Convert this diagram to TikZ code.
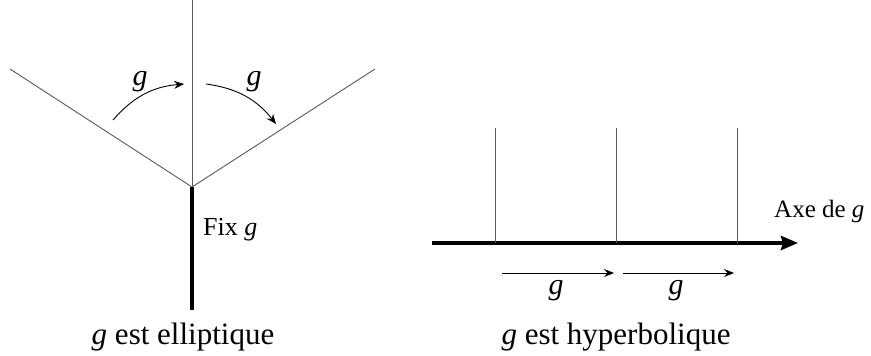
\documentclass[tikz,border=0pt]{standalone}
\usepackage{fontspec}
\setmainfont{Liberation Serif}
\usetikzlibrary{arrows.meta}
\begin{document}
\begin{tikzpicture}[x=1pt,y=-1pt,
  thinline/.style={line width=0.9pt,draw=black!65},
  thickline/.style={line width=4pt},
  curvearrow/.style={line width=0.9pt,-{Stealth[length=10pt,width=8pt,inset=3.5pt]}},
  lbl/.style={font=\fontsize{30}{30}\selectfont,inner sep=0pt,anchor=base},
  captext/.style={font=\fontsize{31}{31}\selectfont,inner sep=0pt,anchor=base},
  smalltext/.style={font=\fontsize{25}{25}\selectfont,inner sep=0pt,anchor=base west}]
\useasboundingbox (0,0) rectangle (871,356);
% elliptic
\coordinate (top) at (192,0);
\coordinate (v) at (192,187);
\coordinate (bot) at (192,310);
\coordinate (l) at (10,69);
\coordinate (r) at (375,69);
\draw[thinline] (top) -- (v);
\draw[thinline] (l) -- (v) -- (r);
\draw[thickline] (v) -- (bot);
\coordinate (a1s) at (113,120);
\coordinate (a1e) at (184,84);
\coordinate (a2s) at (206,84);
\coordinate (a2e) at (276,124);
\draw[curvearrow] (a1s) to[bend left=22] (a1e);
\draw[curvearrow] (a2s) to[bend left=22] (a2e);
\node[lbl] (g1) at (140,85) {\itshape g};
\node[lbl] (g2) at (254,85) {\itshape g};
\node[smalltext,font=\fontsize{26}{26}\selectfont] (fix) at (203,235) {Fix \itshape g};
\node[captext] (cap1) at (183,344) {\textit{g} est elliptique};
% hyperbolic
\coordinate (ax0) at (432,243);
\coordinate (ax1) at (798,243);
\draw[line width=4pt,-{Stealth[length=17pt,width=14pt,inset=2pt]}] (ax0) -- (ax1);
\foreach \x/\n in {495/p1,616/p2,737/p3}{
  \coordinate (\n t) at (\x,128);
  \coordinate (\n b) at (\x,243);
  \draw[thinline] (\n t) -- (\n b);
}
\coordinate (b1s) at (502,273);
\coordinate (b1e) at (614,273);
\coordinate (b2s) at (623,273);
\coordinate (b2e) at (734,273);
\draw[curvearrow] (b1s) -- (b1e);
\draw[curvearrow] (b2s) -- (b2e);
\node[lbl] (g3) at (556,294) {\itshape g};
\node[lbl] (g4) at (676,294) {\itshape g};
\node[smalltext] (axe) at (774,217) {Axe de \textit{g}};
\node[captext] (cap2) at (616,344) {\textit{g} est hyperbolique};
\end{tikzpicture}
\end{document}
